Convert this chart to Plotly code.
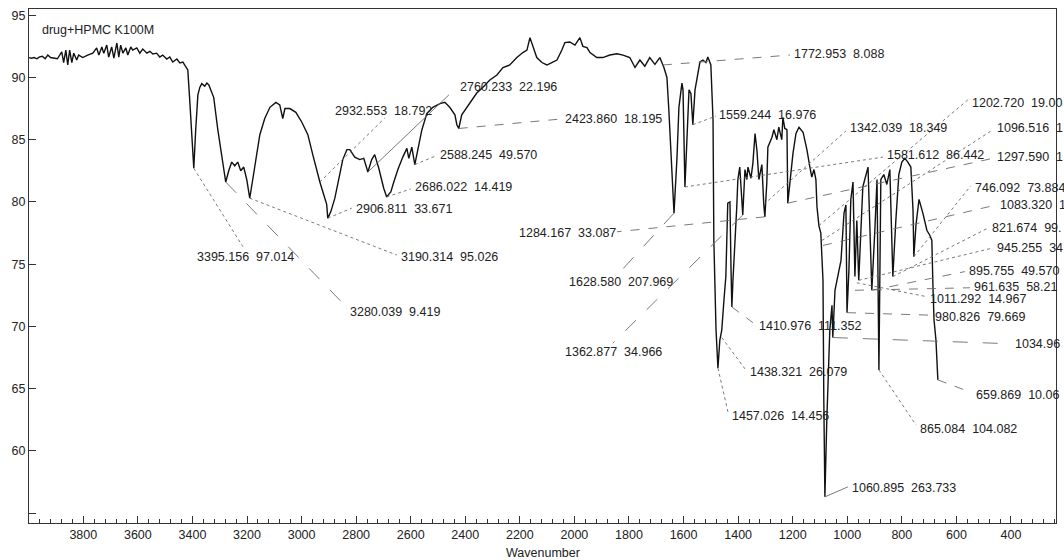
import plotly.graph_objects as go

# ---------------- data ----------------
wavenumber = [
    4000, 3990, 3980, 3970, 3960, 3950, 3940, 3930, 3920, 3895,
    3879, 3872, 3864, 3857, 3850, 3842, 3835, 3824, 3817, 3802, 3784, 3765,
    3751, 3743, 3732, 3725, 3714, 3707, 3696, 3688, 3677, 3670, 3663, 3655, 3644, 3637, 3626,
    3619, 3604, 3593, 3582, 3567, 3556, 3545, 3531, 3520, 3509, 3494, 3483, 3472, 3457, 3446, 3435, 3428,
    3417, 3410, 3402, 3395, 3388, 3380, 3373, 3366, 3355, 3347, 3340, 3333, 3322, 3307, 3292, 3278,
    3267, 3256, 3245, 3234, 3223, 3212, 3201, 3190, 3179, 3168, 3153, 3135, 3116, 3094, 3080, 3069,
    3061, 3043, 3021, 2999, 2977, 2959, 2944, 2933, 2919, 2908, 2904, 2893, 2878, 2864, 2849, 2834,
    2823, 2805, 2787, 2772, 2757, 2743, 2732, 2717, 2699, 2688, 2673, 2662, 2647, 2629, 2614, 2607,
    2596, 2585, 2574, 2559, 2541, 2519, 2493, 2475, 2457, 2438, 2431, 2424, 2413, 2398, 2376, 2358,
    2336, 2310, 2284, 2262, 2237, 2211, 2189, 2174, 2163, 2152, 2138, 2119, 2101, 2083, 2064, 2046,
    2035, 2017, 1998, 1980, 1969, 1954, 1943, 1918, 1896, 1870, 1844, 1822, 1797, 1778, 1760, 1742,
    1724, 1705, 1687, 1672, 1661, 1654, 1646, 1635, 1624, 1617, 1606, 1602, 1595, 1588, 1580, 1573,
    1566, 1558, 1547, 1540, 1529, 1518, 1511, 1500, 1492, 1489, 1481, 1474, 1467, 1460, 1452, 1445,
    1438, 1430, 1426, 1423, 1419, 1412, 1405, 1401, 1394, 1383, 1375, 1368, 1364, 1353, 1346, 1338,
    1331, 1324, 1313, 1306, 1302, 1295, 1291, 1276, 1269, 1258, 1251, 1240, 1236, 1229, 1221, 1218,
    1210, 1199, 1188, 1177, 1162, 1155, 1148, 1137, 1130, 1122, 1115, 1111, 1104, 1097, 1089, 1086,
    1082, 1075, 1071, 1064, 1056, 1053, 1045, 1034, 1023, 1012, 1005, 1001, 994, 987, 979, 972,
    965, 958, 950, 943, 924, 910, 899, 891, 884, 877, 866, 855, 844, 833, 822, 811,
    800, 789, 778, 767, 759, 756, 748, 737, 723, 708, 697, 690, 686, 682, 675, 671, 668,
]
transmittance = [
    91.6, 91.55, 91.6, 91.5, 91.65, 91.7, 91.5, 91.8, 91.6, 91.5,
    92.05, 91.2, 92.2, 91.0, 92.2, 91.2, 91.95, 91.4, 91.8, 91.6, 91.8, 91.95,
    92.37, 91.8, 92.45, 91.95, 92.6, 91.64, 92.45, 91.56, 92.77, 91.64, 92.6, 91.95, 92.37, 91.8, 92.45,
    92.2, 92.37, 91.95, 92.28, 91.95, 92.1, 91.88, 91.95, 91.64, 91.8, 91.48, 91.64, 91.24, 91.48, 91.16, 91.24, 91.0,
    90.6, 88.2, 85.0, 82.7, 85.8, 88.6, 89.2, 89.5, 89.3, 89.55, 89.4, 89.0, 88.4, 85.8, 83.4, 81.6,
    82.5, 83.2, 82.9, 83.2, 82.5, 82.8, 81.8, 80.3, 81.8, 83.5, 85.4, 86.7, 87.6, 88.0, 87.8, 86.7,
    87.5, 87.5, 87.2, 86.4, 85.4, 83.8, 82.4, 81.6, 80.6, 79.8, 78.7, 79.2, 80.3, 81.9, 83.4, 84.2,
    84.2, 83.6, 83.4, 83.5, 82.4, 83.4, 83.8, 82.7, 81.1, 80.4, 80.8, 81.6, 82.6, 83.6, 84.3, 83.5,
    84.4, 83.0, 84.2, 85.8, 87.1, 87.6, 87.9, 88.0, 87.6, 87.0, 86.2, 85.9, 87.0, 87.5, 88.2, 88.75,
    89.2, 89.8, 90.2, 90.8, 91.0, 91.6, 92.0, 92.2, 93.2, 92.45, 91.6, 91.2, 91.0, 91.2, 91.4, 92.2,
    92.8, 92.85, 92.6, 93.2, 92.5, 92.4, 92.0, 91.6, 91.6, 91.8, 91.9, 91.8, 91.6, 90.8, 91.4, 90.9,
    91.6, 91.05, 91.6, 90.8, 90.0, 87.4, 83.4, 79.1, 83.6, 87.6, 89.55, 89.0, 81.2, 85.0, 89.0, 88.7,
    86.2, 89.0, 90.6, 91.24, 91.4, 91.2, 91.64, 91.0, 86.6, 76.9, 69.7, 66.65, 68.9, 69.7, 72.1, 74.0,
    79.9, 80.0, 74.5, 71.56, 73.7, 76.4, 79.6, 81.8, 82.8, 78.95, 82.6, 81.8, 82.8, 81.9, 83.1, 85.5,
    84.1, 81.8, 83.0, 79.8, 78.8, 81.5, 84.4, 85.2, 85.8, 85.0, 86.0, 85.0, 86.8, 85.9, 85.8, 79.9,
    81.8, 83.9, 85.5, 86.0, 85.6, 85.0, 84.2, 82.8, 82.0, 82.6, 81.8, 79.6, 78.1, 77.5, 73.7, 64.1,
    56.3, 62.5, 65.7, 69.7, 71.7, 69.1, 72.9, 74.1, 75.3, 79.1, 79.75, 71.1, 74.5, 80.2, 81.6, 74.0,
    78.5, 73.7, 77.7, 81.2, 82.8, 72.9, 77.7, 81.8, 66.5, 81.8, 82.2, 81.4, 82.6, 74.0, 78.5, 82.2,
    83.2, 83.5, 83.2, 82.8, 79.3, 75.6, 78.2, 80.2, 79.1, 77.7, 77.3, 76.9, 73.2, 70.5, 68.9, 67.3, 65.7,
]

sample_name = "drug+HPMC K100M"
x_title = "Wavenumber"
x_tick_values = [3800, 3600, 3400, 3200, 3000, 2800, 2600, 2400, 2200, 2000,
                 1800, 1600, 1400, 1200, 1000, 800, 600, 400]
y_tick_values = [55, 60, 65, 70, 75, 80, 85, 90, 95]
y_tick_text = ["", "60", "65", "70", "75", "80", "85", "90", "95"]

# peak labels (text as printed) and the point on the curve each one marks
peak_text = [
    "3395.156  97.014", "3280.039  9.419", "3190.314  95.026", "2906.811  33.671",
    "2932.553  18.792", "2760.233  22.196", "2686.022  14.419", "2588.245  49.570",
    "2423.860  18.195", "1772.953  8.088", "1559.244  16.976", "1342.039  18.349",
    "1202.720  19.00", "1096.516  1", "1581.612  86.442", "1297.590  1",
    "1284.167  33.087", "746.092  73.884", "1083.320  1", "821.674  99.",
    "945.255  34", "895.755  49.570", "961.635  58.21", "1011.292  14.967",
    "980.826  79.669", "1034.96", "1410.976  111.352", "1438.321  26.079",
    "1457.026  14.456", "1060.895  263.733", "865.084  104.082", "659.869  10.06",
    "1628.580  207.969", "1362.877  34.966",
]
peak_wn = [3395, 3278, 3190, 2904, 2933, 2757, 2688, 2585, 2424, 1676, 1566, 1306,
           1104, 1093, 1595, 1218, 1302, 756, 1089, 833, 958, 910, 972, 965,
           1001, 1053, 1423, 1460, 1474, 1082, 884, 668, 1635, 1383]
peak_T = [82.7, 81.6, 80.3, 78.7, 81.6, 82.4, 80.4, 83.0, 85.9, 91.0, 86.2, 79.8,
          78.1, 76.9, 81.2, 79.9, 78.8, 75.6, 76.5, 74.0, 73.7, 72.9, 72.9, 73.5,
          71.1, 69.1, 71.56, 69.1, 66.65, 56.3, 66.5, 65.7, 79.1, 78.95]

# layout of each label: leader-line end (x, y), text anchor (x, y), leader dash
label_layout = [
    (3215, 76.4, 3391, 75.57, "dot"),
    (2842, 71.7, 2831, 71.15, "longdash"),
    (2651, 75.73, 2644, 75.57, "dot"),
    (2816, 79.5, 2809, 79.43, "dot"),
    (2695, 86.74, 2886, 87.3, "dot"),
    (2460, 88.6, 2427, 89.23, "solid"),
    (2600, 81.04, 2592, 81.2, "dot"),
    (2508, 83.7, 2501, 83.77, "dot"),
    (2050, 86.66, 2042, 86.66, "dash"),
    (1210, 91.8, 1203, 91.88, "dash"),
    (1481, 86.9, 1478, 86.98, "dot"),
    (1005, 85.7, 998, 85.94, "dot"),
    (558, 88.2, 550, 87.95, "dot"),
    (466, 85.8, 459, 85.9, "dot"),
    (869, 83.6, 862, 83.77, "dot"),
    (466, 83.5, 459, 83.6, "dash"),
    (1844, 77.6, 2211, 77.5, "dash"),
    (547, 81.3, 539, 81.1, "dot"),
    (455, 79.75, 448, 79.75, "dash"),
    (484, 77.9, 477, 77.9, "dot"),
    (466, 76.3, 459, 76.3, "dot"),
    (569, 74.4, 561, 74.45, "dash"),
    (550, 73.1, 543, 73.2, "dash"),
    (712, 72.4, 704, 72.2, "dot"),
    (693, 70.9, 686, 70.75, "dash"),
    (400, 68.6, 393, 68.6, "longdash"),
    (1346, 70.3, 1331, 70.03, "dash"),
    (1372, 66.5, 1364, 66.33, "dot"),
    (1437, 63.1, 1430, 62.8, "dot"),
    (998, 57.1, 990, 57.0, "solid"),
    (748, 62.07, 741, 61.75, "dot"),
    (547, 64.7, 536, 64.5, "dash"),
    (1844, 74.1, 2028, 73.56, "longdash"),
    (1859, 68.66, 2042, 67.94, "longdash"),
]

FONT = "Liberation Sans, Arial, sans-serif"
TEXT_COLOR = "#222222"
AXIS_COLOR = "#333333"

fig = go.Figure()
fig.add_trace(go.Scatter(
    x=wavenumber, y=transmittance, mode="lines",
    line=dict(color="#111111", width=1.4), showlegend=False, hoverinfo="skip",
))

shapes = []
annotations = []
for txt, pw, pt, lay in zip(peak_text, peak_wn, peak_T, label_layout):
    lx, ly, tx, ty, dash = lay
    shapes.append(dict(type="line", xref="x", yref="y", x0=pw, y0=pt, x1=lx, y1=ly,
                       line=dict(color="#6a6a6a", width=0.9, dash=dash), layer="above"))
    annotations.append(dict(x=tx, y=ty, xref="x", yref="y", text=txt.replace("  ", "\u00a0\u00a0"),
                            showarrow=False, xanchor="left", yanchor="middle",
                            font=dict(family=FONT, size=12.5, color=TEXT_COLOR)))

annotations.append(dict(x=3960, y=93.8, xref="x", yref="y", text=sample_name, showarrow=False,
                        xanchor="left", yanchor="middle",
                        font=dict(family=FONT, size=12.5, color=TEXT_COLOR)))
annotations.append(dict(x=0.5, y=-0.058, xref="paper", yref="paper", text=x_title, showarrow=False,
                        xanchor="center", yanchor="middle",
                        font=dict(family=FONT, size=12.5, color=TEXT_COLOR)))

fig.update_layout(
    width=1064, height=560,
    margin=dict(l=29, r=8, t=9, b=37, autoexpand=False),
    paper_bgcolor="white", plot_bgcolor="white",
    font=dict(family=FONT, size=12.5, color=TEXT_COLOR),
    shapes=shapes, annotations=annotations,
    xaxis=dict(
        range=[3999, 235], tickmode="array", tickvals=x_tick_values,
        ticks="inside", ticklen=7, tickwidth=1, tickcolor=AXIS_COLOR,
        minor=dict(ticks="inside", ticklen=3.5, tickwidth=1, tickcolor=AXIS_COLOR,
                   tickmode="linear", tick0=0, dtick=40, showgrid=False),
        showline=True, linecolor=AXIS_COLOR, linewidth=1.2, mirror=True,
        showgrid=False, zeroline=False,
        tickfont=dict(family=FONT, size=12.5, color=TEXT_COLOR),
    ),
    yaxis=dict(
        range=[54.2, 95.5], tickmode="array", tickvals=y_tick_values, ticktext=y_tick_text,
        ticks="inside", ticklen=7, tickwidth=1, tickcolor=AXIS_COLOR,
        showline=True, linecolor=AXIS_COLOR, linewidth=1.2, mirror=True,
        showgrid=False, zeroline=False,
        tickfont=dict(family=FONT, size=12.5, color=TEXT_COLOR),
    ),
)

fig.write_html(
    "out.html",
    config={"displayModeBar": False},
    post_script="document.body.style.margin='0';document.body.style.overflow='hidden';",
)
